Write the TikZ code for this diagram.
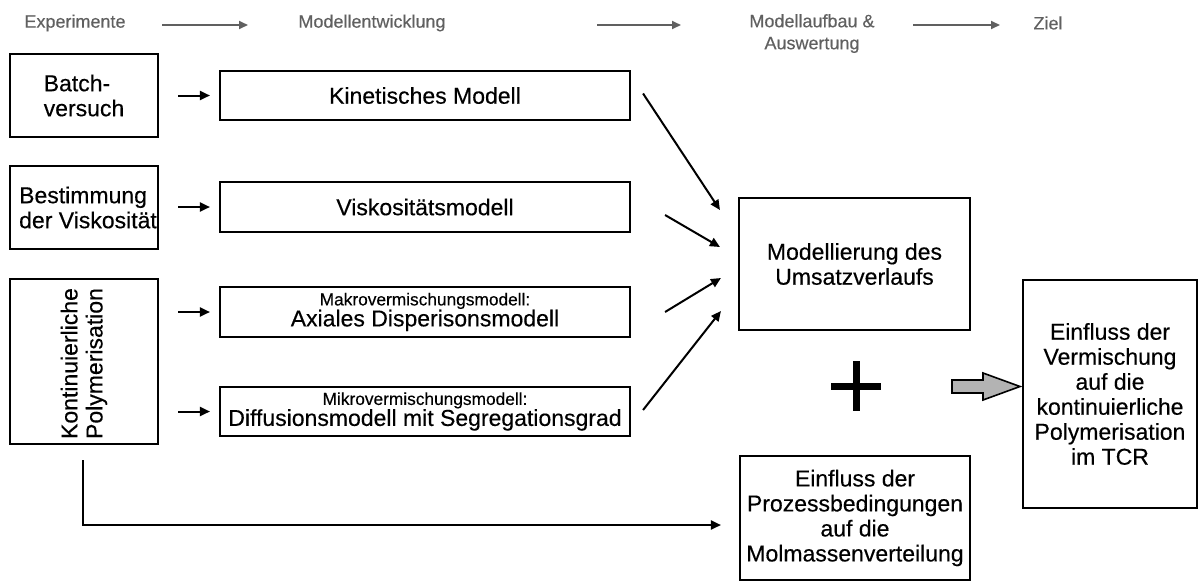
\documentclass[tikz,border=0pt]{standalone}
\usepackage{fontspec}
\setmainfont{Liberation Sans}[FakeBold=0.35]
\usetikzlibrary{arrows.meta,calc}
\definecolor{hdr}{HTML}{606060}
\definecolor{grayfill}{HTML}{B3B3B3}
\tikzset{
  box/.style={draw, line width=2.1pt, rectangle, inner sep=0pt, align=center, font=\fontsize{23}{25}\selectfont},
  txt/.style={inner sep=0pt, font=\fontsize{23}{25}\selectfont},
  hdrtext/.style={text=hdr, inner sep=0pt, align=center, font=\fontsize{18}{22}\selectfont},
  arr/.style={line width=2pt, -{Triangle[length=10pt,width=9pt]}},
  harr/.style={draw=hdr, line width=1.7pt, -{Triangle[length=9pt,width=8pt]}},
  small/.style={font=\fontsize{17}{19}\selectfont}
}
\begin{document}
\begin{tikzpicture}[x=1pt,y=-1pt]
\useasboundingbox (0,0) rectangle (1201,584);
% header
\node[hdrtext] (h1) at (75,23) {Experimente};
\node[hdrtext] (h2) at (372,23) {Modellentwicklung};
\node[hdrtext, anchor=north] (h3) at (812,14) {Modellaufbau \&\\Auswertung};
\node[hdrtext] (h4) at (1048,23) {Ziel};
\coordinate (a1s) at (162,25); \coordinate (a1e) at (248,25);
\coordinate (a2s) at (597,25); \coordinate (a2e) at (681,25);
\coordinate (a3s) at (913,25); \coordinate (a3e) at (1000,25);
\draw[harr] (a1s) -- (a1e);
\draw[harr] (a2s) -- (a2e);
\draw[harr] (a3s) -- (a3e);
% left boxes
\node[box, minimum width=148pt, minimum height=83pt] (batch) at (84,95.5) {};
\node[txt, align=left] (batchtxt) at (batch.center) {Batch-\\versuch};
\node[box, minimum width=148pt, minimum height=83pt] (visk) at (84,207.5) {};
\node[txt, align=left] (visktxt) at ([xshift=4pt]visk.center) {Bestimmung\\der Viskosität};
\node[box, minimum width=148pt, minimum height=165pt] (kont) at (84,361.5) {};
\node[txt, align=left, rotate=90] (konttxt) at ([yshift=-2pt]kont.center) {Kontinuierliche\\Polymerisation};
% middle boxes
\node[box, minimum width=410pt, minimum height=49pt] (kin) at (425,95.5) {Kinetisches Modell};
\node[box, minimum width=410pt, minimum height=50pt] (viskm) at (425,207) {Viskositätsmodell};
\node[box, minimum width=410pt, minimum height=50pt] (makro) at (425,312) {{\fontsize{17.3}{19}\selectfont Makrovermischungsmodell:}\\[-4pt]Axiales Disperisonsmodell};
\node[box, minimum width=410pt, minimum height=49pt] (mikro) at (425,411.5) {{\fontsize{17.3}{19}\selectfont Mikrovermischungsmodell:}\\[-4pt]Diffusionsmodell mit Segregationsgrad};
% right boxes
\node[box, minimum width=231pt, minimum height=132pt] (umsatz) at (854.5,264) {Modellierung des\\Umsatzverlaufs};
\node[box, minimum width=230pt, minimum height=124pt] (prozess) at (855,518) {Einfluss der\\Prozessbedingungen\\auf die\\Molmassenverteilung};
\node[box, minimum width=174pt, minimum height=228pt] (ziel) at (1110,394) {Einfluss der\\Vermischung\\auf die\\kontinuierliche\\Polymerisation\\im TCR};
% small arrows
\draw[arr, shorten <=19pt, shorten >=9pt] (batch.east) -- (kin.west);
\draw[arr, shorten <=19pt, shorten >=9pt] (visk.east |- viskm.west) -- (viskm.west);
\draw[arr, shorten <=19pt, shorten >=9pt] (kont.east |- makro.west) -- (makro.west);
\draw[arr, shorten <=19pt, shorten >=9pt] (kont.east |- mikro.west) -- (mikro.west);
% diagonal arrows
\draw[arr] ($(kin.east)+(12,-2)$) -- ($(umsatz.west)+(-18,-54)$);
\draw[arr] ($(viskm.east)+(34,8)$) -- ($(umsatz.west)+(-18,-17)$);
\draw[arr] ($(makro.east)+(34,0)$) -- ($(umsatz.west)+(-17,14)$);
\draw[arr] ($(mikro.east)+(12,-1.5)$) -- ($(umsatz.west)+(-17,47)$);
% L connector
\draw[arr] ([shift={(-1pt,-15pt)}]kont.south) |- ([shift={(-18pt,-7pt)}]prozess.west);
% plus
\draw[line width=7pt] (831,386) -- (881,386);
\draw[line width=7pt] (856,361) -- (856,411);
% gray arrow
\draw[line width=1.6pt, fill=grayfill, line join=miter] (952,380) -- (983,380) -- (983,373) -- (1020,386.5) -- (983,400) -- (983,393) -- (952,393) -- cycle;
\end{tikzpicture}
\end{document}
